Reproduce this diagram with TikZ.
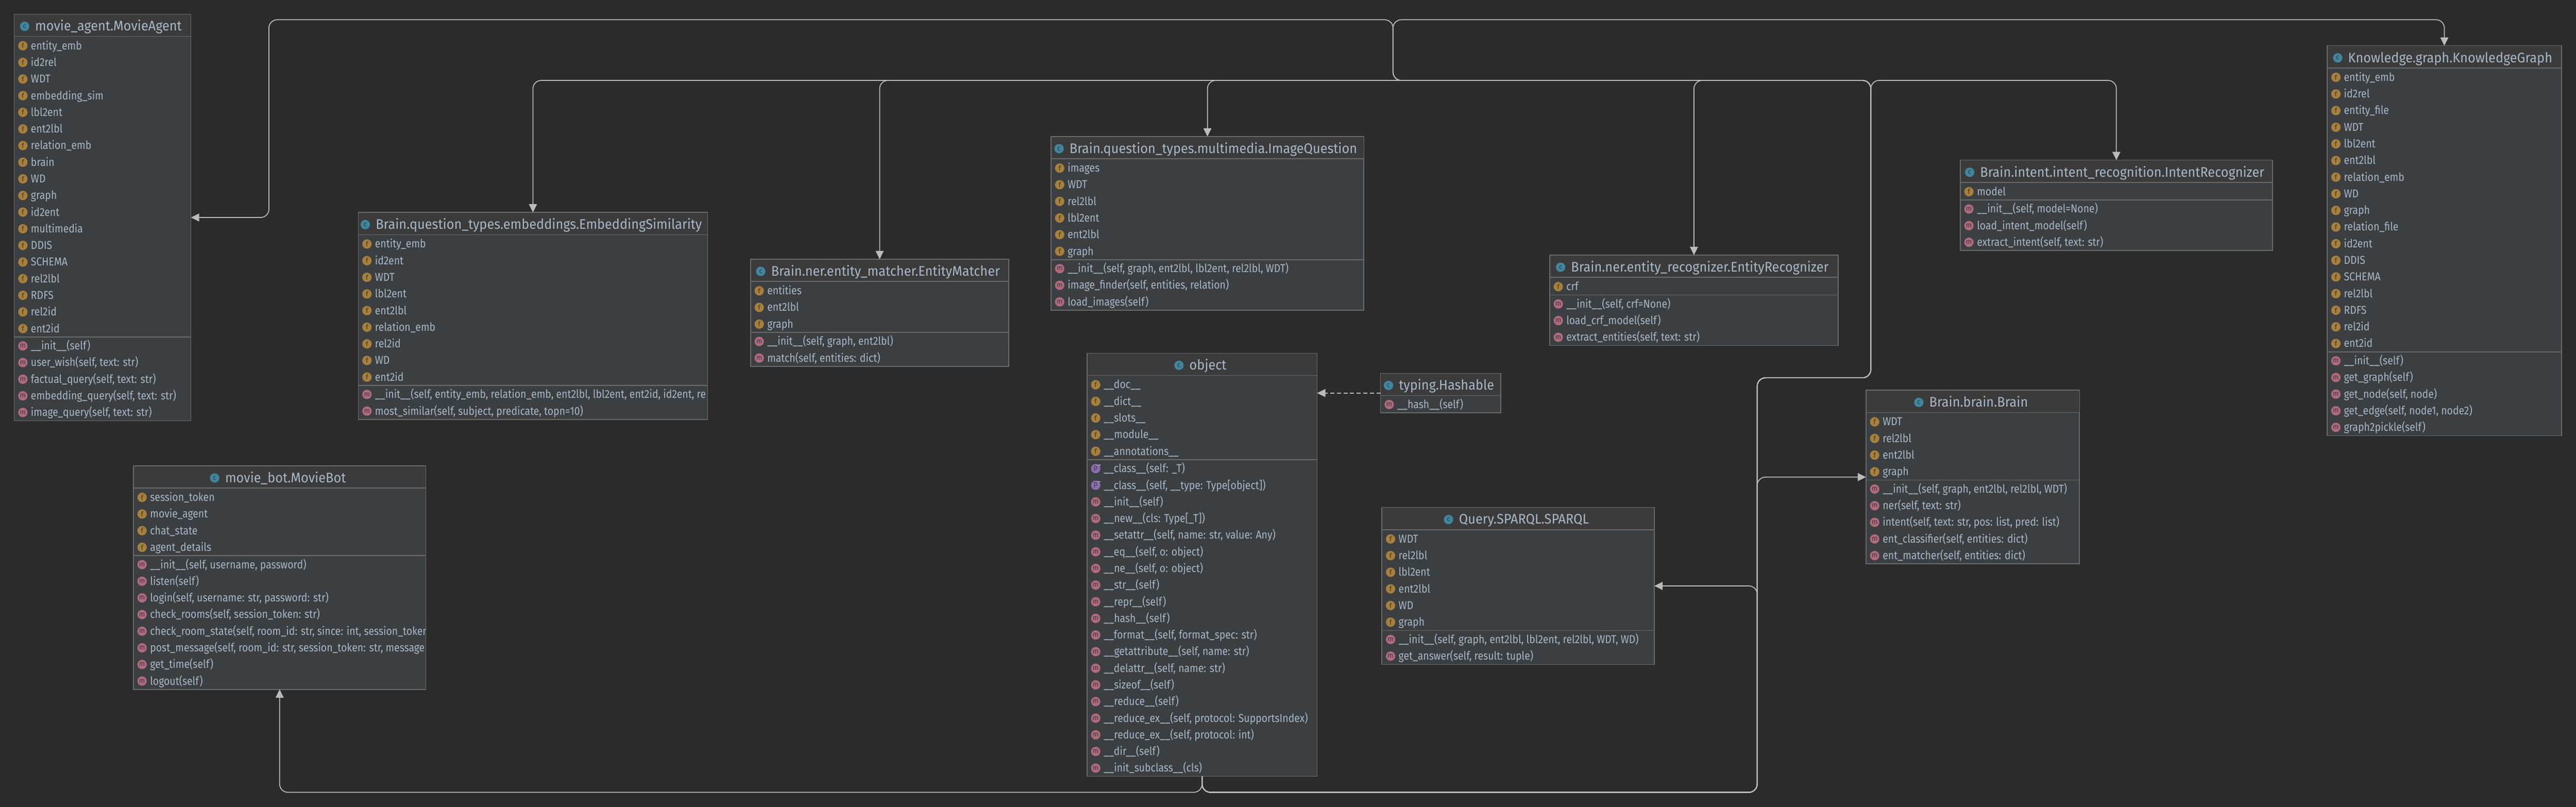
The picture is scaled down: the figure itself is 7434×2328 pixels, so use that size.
\documentclass[tikz,border=0pt]{standalone}
\usepackage{fontspec}
\usetikzlibrary{arrows.meta,calc}
\setmainfont{Fira Sans}
\newfontfamily\umlfont[FakeStretch=0.875]{Fira Sans}
\newfontfamily\umltitlefont[FakeStretch=0.94]{Fira Sans}
\newfontfamily\umliconfont{Fira Sans}
\catcode`\_=12
\definecolor{canvasbg}{HTML}{2B2B2B}
\definecolor{bodybg}{HTML}{3C3F41}
\definecolor{headbg}{HTML}{3B3B3B}
\definecolor{frameclr}{HTML}{6A6A6A}
\definecolor{textclr}{HTML}{A9B7C6}
\definecolor{edgeclr}{HTML}{BBBBBB}
\definecolor{iconc}{HTML}{40869F}
\definecolor{iconf}{HTML}{A8803B}
\definecolor{iconm}{HTML}{B06A7F}
\definecolor{iconp}{HTML}{8A6DB0}
\definecolor{iconink}{HTML}{3A3A3A}
\tikzset{
  umlbody/.style={draw=frameclr,fill=bodybg,line width=2.5pt,inner sep=0pt,outer sep=0pt},
  umlrule/.style={draw=frameclr,line width=2.5pt},
  rowtxt/.style={anchor=base west,inner sep=0pt,text=textclr,font=\umlfont\fontsize{33}{36}\selectfont},
  titletxt/.style={anchor=base,inner sep=0pt,text=textclr,font=\umltitlefont\fontsize{40}{44}\selectfont},
  umlicon/.style={circle,fill=#1,minimum size=27pt,inner sep=0pt,outer sep=0pt,text=iconink,font=\umliconfont\fontsize{20}{22}\selectfont},
  edge/.style={draw=edgeclr,line width=2.6pt,rounded corners=24pt},
  arrowed/.style={-{Triangle[length=24pt,width=23pt,fill=edgeclr]}},
  depend/.style={draw=edgeclr,line width=2.6pt,dash pattern=on 12pt off 7pt},
  tinyarrow/.style={draw=textclr,line width=1.6pt,-{Stealth[length=5pt,width=5pt]}}
}
% [number of leading property rows], id, L, T, R, title, fields, methods
\newcommand{\umlbox}[8][0]{%
  \def\uF{#7}\def\uM{#8}%
  \gdef\uNF{0}\gdef\uNM{0}%
  \ifx\uF\empty\else\foreach \x [count=\n] in {#7} {\xdef\uNF{\n}}\fi
  \foreach \x [count=\n] in {#8} {\xdef\uNM{\n}}%
  \pgfmathsetmacro{\uH}{#4+64}%
  \ifx\uF\empty\pgfmathsetmacro{\uS}{\uH}\else\pgfmathsetmacro{\uS}{\uH+3+48*\uNF}\fi
  \pgfmathsetmacro{\uB}{\uS+2+48*\uNM}%
  \pgfmathsetmacro{\uW}{#5-#3}%
  \pgfmathsetmacro{\uHt}{\uB-#4}%
  \pgfmathsetmacro{\uCx}{(#3+#5)/2}%
  \pgfmathsetmacro{\uCy}{(#4+\uB)/2}%
  \node[umlbody,minimum width=\uW pt,minimum height=\uHt pt] (#2) at (\uCx,\uCy) {};
  \fill[headbg] (#3+1,#4+1) rectangle (#5-1,\uH);
  \draw[umlrule] (#3,\uH) -- (#5,\uH);
  \ifx\uF\empty\else\draw[umlrule] (#3,\uS) -- (#5,\uS);\fi
  \node[titletxt] (#2-title) at (\uCx+17,#4+48) {#6};
  \node[umlicon=iconc] (#2-ticon) at ([xshift=-30pt,yshift=13pt]#2-title.base west) {c};
  \begin{scope}
    \clip (#3,#4) rectangle (#5,\uB);
    \ifx\uF\empty\else
    \foreach \x [count=\n] in {#7} {
      \pgfmathsetmacro{\uY}{\uH+3+48*(\n-0.5)}
      \node[umlicon=iconf] (#2-fi\n) at (#3+25,\uY) {f};
      \node[rowtxt] (#2-f\n) at (#3+48,\uY+11) {\x};
    }\fi
    \foreach \x [count=\n] in {#8} {
      \pgfmathsetmacro{\uY}{\uS+2+48*(\n-0.5)}
      \ifnum\n>#1\relax
        \node[umlicon=iconm] (#2-mi\n) at (#3+25,\uY) {m};
      \else
        \node[umlicon=iconp] (#2-mi\n) at (#3+25,\uY) {p};
      \fi
      \node[rowtxt] (#2-m\n) at (#3+48,\uY+11) {\x};
    }
  \end{scope}
}
\begin{document}
\begin{tikzpicture}[x=1pt,y=-1pt]
\useasboundingbox (0,0) rectangle (7434,2328);
\fill[canvasbg] (0,0) rectangle (7434,2328);

\umlbox{agent}{41}{41}{551}{movie_agent.MovieAgent}
 {entity_emb,id2rel,WDT,embedding_sim,lbl2ent,ent2lbl,relation_emb,brain,WD,graph,id2ent,multimedia,DDIS,SCHEMA,rel2lbl,RDFS,rel2id,ent2id}
 {{__init__(self)},{user_wish(self, text: str)},{factual_query(self, text: str)},{embedding_query(self, text: str)},{image_query(self, text: str)}}

\umlbox{bot}{385}{1344}{1229}{movie_bot.MovieBot}
 {session_token,movie_agent,chat_state,agent_details}
 {{__init__(self, username, password)},{listen(self)},{login(self, username: str, password: str)},{check_rooms(self, session_token: str)},{check_room_state(self, room_id: str, since: int, session_token},{post_message(self, room_id: str, session_token: str, message},{get_time(self)},{logout(self)}}

\umlbox{embed}{1034}{613}{2042}{Brain.question_types.embeddings.EmbeddingSimilarity}
 {entity_emb,id2ent,WDT,lbl2ent,ent2lbl,relation_emb,rel2id,WD,ent2id}
 {{__init__(self, entity_emb, relation_emb, ent2lbl, lbl2ent, ent2id, id2ent, re},{most_similar(self, subject, predicate, topn=10)}}

\umlbox{matcher}{2166}{748}{2911}{Brain.ner.entity_matcher.EntityMatcher}
 {entities,ent2lbl,graph}
 {{__init__(self, graph, ent2lbl)},{match(self, entities: dict)}}

\umlbox{image}{3033}{394}{3936}{Brain.question_types.multimedia.ImageQuestion}
 {images,WDT,rel2lbl,lbl2ent,ent2lbl,graph}
 {{__init__(self, graph, ent2lbl, lbl2ent, rel2lbl, WDT)},{image_finder(self, entities, relation)},{load_images(self)}}

\umlbox[2]{object}{3137}{1019}{3801}{object}
 {__doc__,__dict__,__slots__,__module__,__annotations__}
 {{__class__(self: _T)},{__class__(self, __type: Type[object])},{__init__(self)},{__new__(cls: Type[_T])},{__setattr__(self, name: str, value: Any)},{__eq__(self, o: object)},{__ne__(self, o: object)},{__str__(self)},{__repr__(self)},{__hash__(self)},{__format__(self, format_spec: str)},{__getattribute__(self, name: str)},{__delattr__(self, name: str)},{__sizeof__(self)},{__reduce__(self)},{__reduce_ex__(self, protocol: SupportsIndex)},{__reduce_ex__(self, protocol: int)},{__dir__(self)},{__init_subclass__(cls)}}

\draw[tinyarrow] ([shift={(4pt,10pt)}]object-mi1.center) -- ++(11,0);
\draw[tinyarrow] ([shift={(15pt,10pt)}]object-mi2.center) -- ++(-11,0);

\umlbox{hash}{3984}{1077}{4331}{typing.Hashable}
 {}
 {{__hash__(self)}}

\umlbox{sparql}{3988}{1464}{4774}{Query.SPARQL.SPARQL}
 {WDT,rel2lbl,lbl2ent,ent2lbl,WD,graph}
 {{__init__(self, graph, ent2lbl, lbl2ent, rel2lbl, WDT, WD)},{get_answer(self, result: tuple)}}

\umlbox{recog}{4472}{736}{5305}{Brain.ner.entity_recognizer.EntityRecognizer}
 {crf}
 {{__init__(self, crf=None)},{load_crf_model(self)},{extract_entities(self, text: str)}}

\umlbox{intent}{5657}{462}{6558}{Brain.intent.intent_recognition.IntentRecognizer}
 {model}
 {{__init__(self, model=None)},{load_intent_model(self)},{extract_intent(self, text: str)}}

\umlbox{brain}{5385}{1126}{6001}{Brain.brain.Brain}
 {WDT,rel2lbl,ent2lbl,graph}
 {{__init__(self, graph, ent2lbl, rel2lbl, WDT)},{ner(self, text: str)},{intent(self, text: str, pos: list, pred: list)},{ent_classifier(self, entities: dict)},{ent_matcher(self, entities: dict)}}

\umlbox{kg}{6716}{132}{7392}{Knowledge.graph.KnowledgeGraph}
 {entity_emb,id2rel,entity_file,WDT,lbl2ent,ent2lbl,relation_emb,WD,graph,relation_file,id2ent,DDIS,SCHEMA,rel2lbl,RDFS,rel2id,ent2id}
 {{__init__(self)},{get_graph(self)},{get_node(self, node)},{get_edge(self, node1, node2)},{graph2pickle(self)}}

% routing points of the connectors
\coordinate (lowbus) at (3469,2286);
\coordinate (rise) at (5071,2286);
\coordinate (risetop) at (5071,1090);
\coordinate (shift) at (5399,1090);
\coordinate (midbus) at (5399,232);
\coordinate (upjoin) at (4020,232);
\coordinate (topjoin) at (4020,57);
\coordinate (topleft) at (776,57);

\draw[depend,arrowed] (hash.west) -- (hash.west -| object.east);

\draw[edge,arrowed] (object.south) -- (lowbus) -- (lowbus -| bot.south) -- (bot.south);
\draw[edge,arrowed] (object.south) -- (lowbus) -- (rise) -- (rise |- sparql.east) -- (sparql.east);
\draw[edge,arrowed] (object.south) -- (lowbus) -- (rise) -- (rise |- brain.west) -- (brain.west);
\draw[edge,arrowed] (object.south) -- (lowbus) -- (rise) -- (risetop) -- (shift) -- (midbus) -- (midbus -| intent.north) -- (intent.north);
\draw[edge,arrowed] (object.south) -- (lowbus) -- (rise) -- (risetop) -- (shift) -- (midbus) -- (midbus -| recog.north) -- (recog.north);
\draw[edge,arrowed] (object.south) -- (lowbus) -- (rise) -- (risetop) -- (shift) -- (midbus) -- (midbus -| image.north) -- (image.north);
\draw[edge,arrowed] (object.south) -- (lowbus) -- (rise) -- (risetop) -- (shift) -- (midbus) -- (midbus -| matcher.north) -- (matcher.north);
\draw[edge,arrowed] (object.south) -- (lowbus) -- (rise) -- (risetop) -- (shift) -- (midbus) -- (midbus -| embed.north) -- (embed.north);
\draw[edge,arrowed] (object.south) -- (lowbus) -- (rise) -- (risetop) -- (shift) -- (midbus) -- (upjoin) -- (topjoin) -- (topjoin -| kg.north) -- (kg.north);
\draw[edge,arrowed] (object.south) -- (lowbus) -- (rise) -- (risetop) -- (shift) -- (midbus) -- (upjoin) -- (topjoin) -- (topleft) -- (topleft |- agent.east) -- (agent.east);
\end{tikzpicture}
\end{document}
